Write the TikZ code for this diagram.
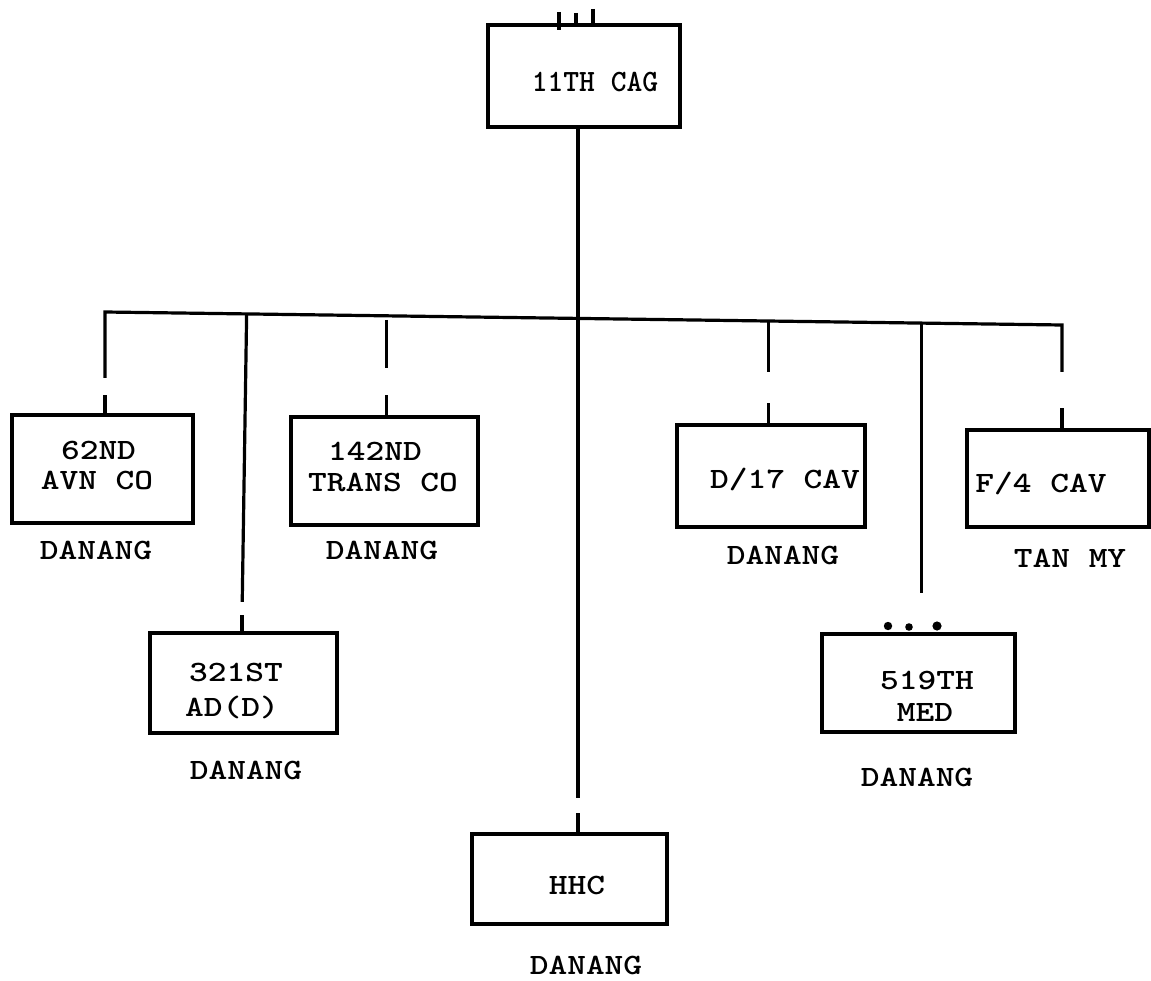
\documentclass[tikz,border=0pt]{standalone}
\usepackage{fontspec}
\usepackage{graphicx}
\usetikzlibrary{calc}
\newcommand\tw[2][1.21]{\scalebox{#1}[1]{#2}}
\begin{document}
\begin{tikzpicture}[x=1pt,y=-1pt,
  unitbox/.style={draw,line width=3.2pt,inner sep=0pt,outer sep=0pt},
  conn/.style={line width=3.2pt},
  lbl/.style={inner sep=0pt,font=\fontsize{29.5}{34}\selectfont\ttfamily\bfseries,text height=18pt,text depth=0pt},
  cagl/.style={inner sep=0pt,font=\fontsize{31}{36}\selectfont\ttfamily\bfseries,text height=19pt,text depth=0pt}]
\fill[white] (0,0) rectangle (1151,981);
\useasboundingbox (0,0) rectangle (1151,981);

% unit boxes
\node[unitbox,minimum width=192pt,minimum height=102pt] (cag) at (584,76) {};
\node[unitbox,minimum width=181pt,minimum height=108pt] (n62) at (102.5,469) {};
\node[unitbox,minimum width=187pt,minimum height=108pt] (n142) at (384.5,471) {};
\node[unitbox,minimum width=187pt,minimum height=100pt] (n321) at (243.5,683) {};
\node[unitbox,minimum width=195pt,minimum height=90pt] (hhc) at (569.5,879) {};
\node[unitbox,minimum width=188pt,minimum height=102pt] (d17) at (771,476) {};
\node[unitbox,minimum width=193pt,minimum height=98pt] (n519) at (918.5,683) {};
\node[unitbox,minimum width=182pt,minimum height=97pt] (f4) at (1058,478.5) {};

% texts
\node[cagl] (tcag) at (595,82) {\tw[0.97]{11TH CAG}};
\node[lbl] (t62a) at (98.5,450) {\tw{62ND}};
\node[lbl] (t62b) at (97,480) {\tw{AVN CO}};
\node[lbl] (t62c) at (96,550) {\tw{DANANG}};
\node[lbl] (t142a) at (375,451) {\tw{142ND}};
\node[lbl] (t142b) at (383,482) {\tw{TRANS CO}};
\node[lbl] (t142c) at (382,550) {\tw{DANANG}};
\node[lbl] (td17a) at (785,479) {\tw{D/17 CAV}};
\node[lbl] (td17b) at (783,555) {\tw{DANANG}};
\node[lbl] (tf4a) at (1041,483) {\tw{F/4 CAV}};
\node[lbl] (tf4b) at (1070,558) {\tw{TAN MY}};
\node[lbl] (t321a) at (236,672) {\tw{321ST}};
\node[lbl] (t321b) at (232,707) {\tw{AD(D)}};
\node[lbl] (t321c) at (246,770) {\tw{DANANG}};
\node[lbl] (thhca) at (577,885) {\tw{HHC}};
\node[lbl] (thhcb) at (586,965) {\tw{DANANG}};
\node[lbl] (t519a) at (927,680) {\tw{519TH}};
\node[lbl] (t519b) at (925,712) {\tw{MED}};
\node[lbl] (t519c) at (917,777) {\tw{DANANG}};

% size symbols
\draw[line width=3.6pt] (559,12) -- (559,30);
\draw[line width=3.4pt] (576,13) -- (576,25);
\draw[line width=3.4pt] (593,9) -- (593,25);
\fill (888,626) circle (4.2pt);
\fill (909,627) circle (3.8pt);
\fill (937,626) circle (4.6pt);

% bus and junctions
\coordinate (busL) at (105,312);
\coordinate (busR) at (1062,325);
\coordinate (j321) at ($(busL)!0.148!(busR)$);
\coordinate (j142) at ($(busL)!0.294!(busR)$);
\coordinate (jd17) at ($(busL)!0.693!(busR)$);
\coordinate (j519) at ($(busL)!0.853!(busR)$);
\coordinate (hhcin) at (hhc.north -| 578,0);
\coordinate (e321) at (n321.north -| 242,0);

\draw[conn] (busL) ++(0,66) -- (busL) -- (busR) -- ++(0,47);

% 11TH CAG to HHC
\draw[conn] (cag.south -| hhcin) -- ($(hhcin)+(0,-36)$);
\draw[conn] (hhcin) -- ++(0,-21);

% 62ND
\draw[conn] (n62.north -| busL) -- ++(0,-20);
% 321ST
\draw[conn] (j321) -- ++(-4.4,288);
\draw[conn] (e321) -- ++(0,-18);
% 142ND
\draw[conn] (j142) ++(0,4) -- ++(0,48);
\draw[conn] (n142.north -| j142) -- ++(0,-22);
% D/17 CAV
\draw[conn] (jd17) -- ++(0,51);
\draw[conn] (d17.north -| jd17) -- ++(0,-22);
% 519TH MED
\draw[conn] (j519) -- ++(0,270);
% F/4 CAV
\draw[conn] (f4.north -| busR) -- ++(0,-22);
\end{tikzpicture}
\end{document}
